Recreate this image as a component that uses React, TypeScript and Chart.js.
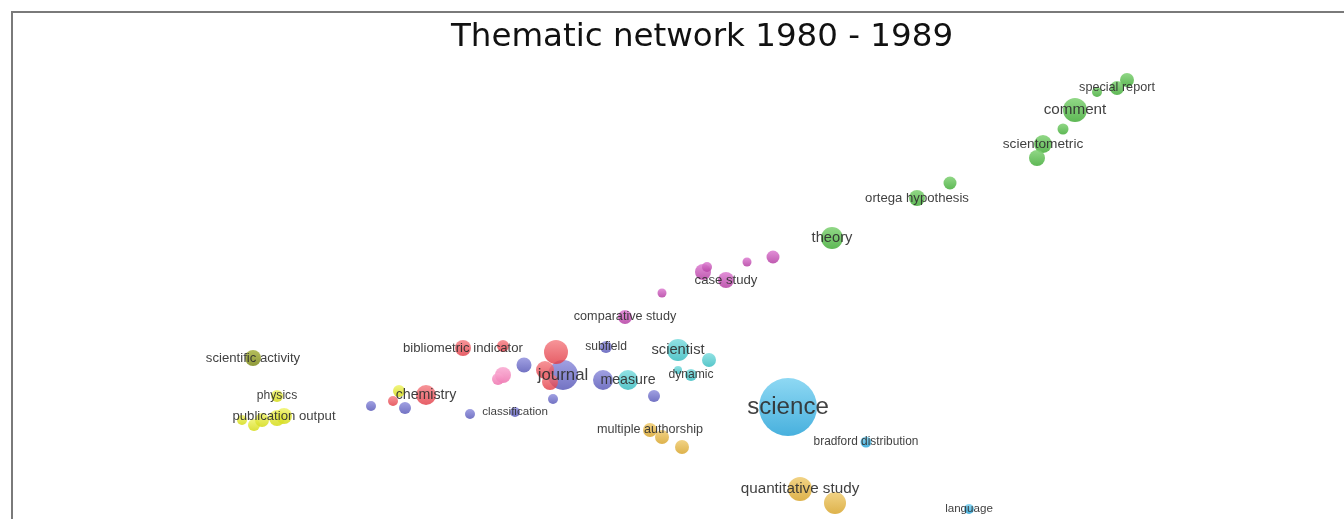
import React, { useEffect, useRef } from "react";
import { Chart, registerables } from "chart.js";

Chart.register(...registerables);

type Node = { x: number; y: number; r: number; label: string };

const TITLE = "Thematic network 1980 - 1989";

const greenNodes: Node[] = [
  { x: 4.55, y: 2.1, r: 7, label: "" },
  { x: 4.45, y: 2.02, r: 7, label: "special report" },
  { x: 4.25, y: 1.98, r: 5, label: "" },
  { x: 4.03, y: 1.8, r: 12, label: "comment" },
  { x: 3.91, y: 1.61, r: 5.5, label: "" },
  { x: 3.71, y: 1.46, r: 9, label: "scientometric" },
  { x: 3.65, y: 1.32, r: 8, label: "" },
  { x: 2.78, y: 1.07, r: 6.5, label: "" },
  { x: 2.45, y: 0.92, r: 8, label: "ortega hypothesis" },
  { x: 1.6, y: 0.52, r: 11, label: "theory" },
];

const magentaNodes: Node[] = [
  { x: 1.01, y: 0.33, r: 6.5, label: "" },
  { x: 0.75, y: 0.28, r: 4.5, label: "" },
  { x: 0.31, y: 0.18, r: 8, label: "" },
  { x: 0.35, y: 0.23, r: 5, label: "" },
  { x: 0.54, y: 0.1, r: 8, label: "case study" },
  { x: -0.1, y: -0.03, r: 4.5, label: "" },
  { x: -0.47, y: -0.27, r: 7, label: "comparative study" },
];

const cyanNodes: Node[] = [
  { x: 0.06, y: -0.6, r: 11, label: "scientist" },
  { x: 0.37, y: -0.7, r: 7, label: "" },
  { x: 0.06, y: -0.8, r: 4, label: "" },
  { x: 0.19, y: -0.85, r: 6, label: "dynamic" },
  { x: -0.44, y: -0.9, r: 10, label: "measure" },
];

const redNodes: Node[] = [
  { x: -1.16, y: -0.62, r: 12, label: "" },
  { x: -1.27, y: -0.8, r: 9, label: "" },
  { x: -1.22, y: -0.92, r: 8, label: "" },
  { x: -2.46, y: -1.05, r: 10, label: "chemistry" },
  { x: -2.79, y: -1.11, r: 5, label: "" },
  { x: -2.09, y: -0.58, r: 8, label: "bibliometric indicator" },
  { x: -1.69, y: -0.56, r: 6, label: "" },
];

const purpleNodes: Node[] = [
  { x: -0.66, y: -0.57, r: 6, label: "subfield" },
  { x: -0.69, y: -0.9, r: 10, label: "" },
  { x: -0.18, y: -1.06, r: 6, label: "" },
  { x: -1.19, y: -1.09, r: 5, label: "" },
  { x: -1.09, y: -0.85, r: 15, label: "journal" },
  { x: -1.48, y: -0.75, r: 7.5, label: "" },
  { x: -3.01, y: -1.16, r: 5, label: "" },
  { x: -2.67, y: -1.18, r: 6, label: "" },
  { x: -2.02, y: -1.24, r: 5, label: "" },
  { x: -1.57, y: -1.22, r: 5, label: "classification" },
];

const pinkNodes: Node[] = [
  { x: -1.69, y: -0.85, r: 8, label: "" },
  { x: -1.74, y: -0.89, r: 6, label: "" },
];

const yellowNodes: Node[] = [
  { x: -2.73, y: -1.01, r: 6, label: "" },
  { x: -3.95, y: -1.06, r: 6, label: "physics" },
  { x: -4.3, y: -1.3, r: 5, label: "" },
  { x: -4.18, y: -1.35, r: 6, label: "" },
  { x: -4.1, y: -1.3, r: 7, label: "" },
  { x: -3.95, y: -1.28, r: 8, label: "" },
  { x: -3.88, y: -1.26, r: 8, label: "publication output" },
];

const oliveNodes: Node[] = [
  { x: -4.19, y: -0.68, r: 8, label: "scientific activity" },
];

const goldNodes: Node[] = [
  { x: -0.22, y: -1.4, r: 7, label: "multiple authorship" },
  { x: -0.1, y: -1.47, r: 7, label: "" },
  { x: 0.1, y: -1.57, r: 7, label: "" },
  { x: 1.28, y: -1.99, r: 12, label: "quantitative study" },
  { x: 1.63, y: -2.13, r: 11, label: "" },
];

const blueNodes: Node[] = [
  { x: 1.16, y: -1.17, r: 29, label: "science" },
  { x: 1.94, y: -1.52, r: 5.5, label: "bradford distribution" },
  { x: 2.97, y: -2.19, r: 5, label: "language" },
];

// [r, g, b] base colour, lighter top colour, opacity
const clusters: { nodes: Node[]; base: number[]; light: number[]; alpha: number }[] = [
  { nodes: greenNodes, base: [72, 174, 62], light: [130, 210, 118], alpha: 0.88 },
  { nodes: magentaNodes, base: [182, 68, 165], light: [222, 128, 210], alpha: 0.88 },
  { nodes: redNodes, base: [225, 60, 70], light: [245, 125, 130], alpha: 0.82 },
  { nodes: pinkNodes, base: [238, 118, 176], light: [250, 170, 210], alpha: 0.88 },
  { nodes: purpleNodes, base: [84, 84, 182], light: [140, 140, 220], alpha: 0.82 },
  { nodes: cyanNodes, base: [64, 190, 194], light: [130, 222, 224], alpha: 0.88 },
  { nodes: yellowNodes, base: [214, 220, 30], light: [240, 244, 110], alpha: 0.88 },
  { nodes: oliveNodes, base: [128, 140, 30], light: [170, 180, 70], alpha: 0.88 },
  { nodes: goldNodes, base: [218, 170, 56], light: [240, 206, 120], alpha: 0.9 },
  { nodes: blueNodes, base: [52, 168, 218], light: [130, 212, 242], alpha: 0.9 },
];

const rgba = (c: number[], a: number) => `rgba(${c[0]},${c[1]},${c[2]},${a})`;

const labelPlugin = {
  id: "nodeLabels",
  afterDatasetsDraw(chart: any) {
    const ctx = chart.ctx;
    ctx.save();
    ctx.textAlign = "center";
    ctx.textBaseline = "middle";
    ctx.fillStyle = "rgba(48,48,48,0.92)";
    chart.data.datasets.forEach((ds: any, i: number) => {
      const meta = chart.getDatasetMeta(i);
      meta.data.forEach((el: any, j: number) => {
        const node = ds.data[j] as Node;
        if (!node.label) return;
        const size = 9 + 0.52 * node.r;
        ctx.font = `${size}px "Liberation Sans", Arial, sans-serif`;
        ctx.fillText(node.label, el.x, el.y);
      });
    });
    ctx.restore();
  },
};

export default function App() {
  const canvasRef = useRef<HTMLCanvasElement | null>(null);

  useEffect(() => {
    if (!canvasRef.current) return;
    const chart = new Chart(canvasRef.current, {
      type: "bubble",
      data: {
        datasets: clusters.map((c) => ({
          data: c.nodes as any,
          backgroundColor: (context: any) => {
            const raw = context.raw as Node | undefined;
            const ch = context.chart;
            if (!raw || !ch.scales || !ch.scales.y) return rgba(c.base, c.alpha);
            const cy = ch.scales.y.getPixelForValue(raw.y);
            if (!isFinite(cy)) return rgba(c.base, c.alpha);
            const g = ch.ctx.createLinearGradient(0, cy - raw.r, 0, cy + raw.r);
            g.addColorStop(0, rgba(c.light, c.alpha));
            g.addColorStop(1, rgba(c.base, c.alpha));
            return g;
          },
          borderWidth: 0,
          hoverBorderWidth: 0,
          clip: false as any,
        })),
      },
      options: {
        animation: false,
        responsive: false,
        maintainAspectRatio: false,
        layout: { padding: { left: 60, top: 0, right: 0, bottom: 0 } },
        events: [],
        scales: {
          x: { type: "linear", display: false, min: -6.12, max: 6.43 },
          y: { type: "linear", display: false, min: -2.29, max: 2.27 },
        },
        plugins: {
          legend: { display: false },
          tooltip: { enabled: false },
          title: {
            display: true,
            text: TITLE,
            color: "#111",
            font: { family: "'DejaVu Sans', Verdana, sans-serif", size: 32.5, weight: "normal" },
            padding: { top: 18, bottom: 6 },
          },
        },
      },
      plugins: [labelPlugin],
    });
    return () => chart.destroy();
  }, []);

  return (
    <div style={{ position: "fixed", left: 0, top: 0, width: 1344, height: 519, background: "#fff", overflow: "hidden" }}>
      <div
        style={{
          position: "absolute",
          left: 11,
          top: 11,
          right: 0,
          bottom: 0,
          borderTop: "2px solid #7a7a7a",
          borderLeft: "2px solid #7a7a7a",
        }}
      />
      <canvas ref={canvasRef} width={1344} height={548} style={{ position: "absolute", left: 0, top: 0 }} />
    </div>
  );
}
